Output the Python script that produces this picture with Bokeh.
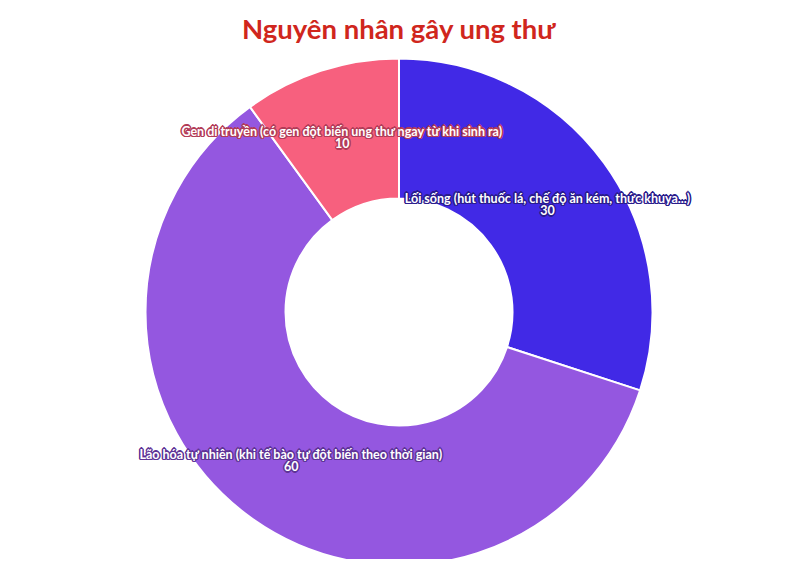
import math
from bokeh.plotting import figure
from bokeh.models import Range1d, ColumnDataSource, Label
from bokeh.core.properties import value
from bokeh.embed import file_html
from bokeh.resources import INLINE

title_text = "Nguyên nhân gây ung thư"
categories = [
    "Lối sống (hút thuốc lá, chế độ ăn kém, thức khuya...)",
    "Lão hóa tự nhiên (khi tế bào tự đột biến theo thời gian)",
    "Gen di truyền (có gen đột biến ung thư ngay từ khi sinh ra)",
]
values = [30, 60, 10]
colors = ["#4129E6", "#9457E0", "#F7607E"]
stroke_colors = ["#2A1C8C", "#5E3496", "#B23C58"]

W, H = 780, 559
cx, cy = 398.5, H - 311.5
r_in, r_out = 113.5, 253.5

total = float(sum(values))
starts, ends, lx, ly = [], [], [], []
cum = 0.0
for v in values:
    c0 = cum / total
    cum += v
    c1 = cum / total
    starts.append(math.pi / 2 - 2 * math.pi * c0)
    ends.append(math.pi / 2 - 2 * math.pi * c1)
    a = math.pi / 2 - 2 * math.pi * (c0 + c1) / 2
    rm = (r_in + r_out) / 2
    lx.append(cx + rm * math.cos(a))
    ly.append(cy + rm * math.sin(a))

src = ColumnDataSource(dict(
    start=starts, end=ends, color=colors, stroke=stroke_colors,
    x=[cx] * len(values), y=[cy] * len(values), lx=lx, ly=ly,
    name=categories, val=[str(v) for v in values],
))

p = figure(width=W, height=H, x_range=Range1d(0, W), y_range=Range1d(0, H),
           output_backend="svg", toolbar_location=None, min_border=0)
p.axis.visible = False
p.grid.visible = False
p.outline_line_color = None
p.background_fill_color = "white"
p.border_fill_color = "white"

p.annular_wedge(x="x", y="y", inner_radius=r_in, outer_radius=r_out,
                start_angle="start", end_angle="end", direction="clock",
                fill_color="color", line_color="white", line_width=2, source=src)

font = value("Lato")
fs = "12.5px"
offsets = [(-1, -1), (0, -1), (1, -1), (-1, 0), (1, 0), (-1, 1), (0, 1), (1, 1),
           (-1.5, 0), (1.5, 0), (0, -1.5), (0, 1.5)]
for field, dy in (("name", -6), ("val", 6)):
    for ox, oy in offsets:
        p.text(x="lx", y="ly", text=field, source=src, x_offset=ox, y_offset=dy + oy,
               text_color="stroke", text_font=font, text_font_size=fs,
               text_font_style="bold", text_align="center", text_baseline="middle")
    p.text(x="lx", y="ly", text=field, source=src, x_offset=0, y_offset=dy,
           text_color="white", text_font=font, text_font_size=fs,
           text_font_style="bold", text_align="center", text_baseline="middle")

p.add_layout(Label(x=cx, y=H - 28, text=title_text, text_font="Lato",
                   text_font_size="27.5px", text_font_style="bold",
                   text_color="#D0261D", text_align="center", text_baseline="middle"))

open("out.html", "w").write(file_html(p, INLINE))
